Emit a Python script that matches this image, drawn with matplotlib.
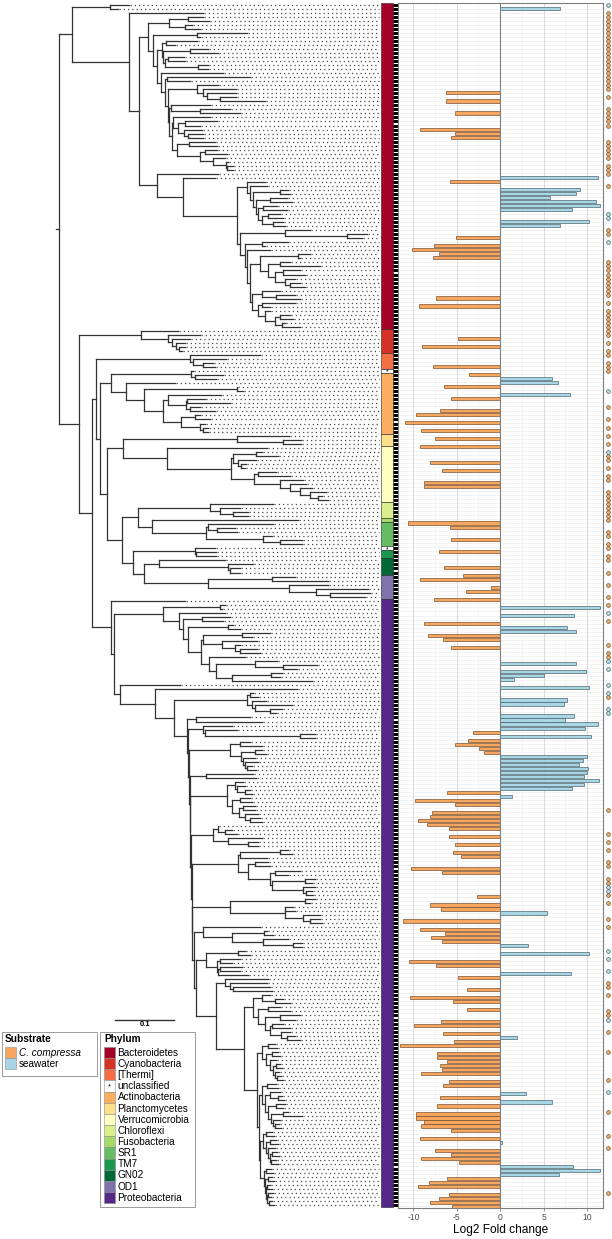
import matplotlib
matplotlib.use("Agg")
import matplotlib.pyplot as plt
import numpy as np
from matplotlib.patches import Rectangle
from matplotlib.collections import LineCollection

plt.rcParams['font.family'] = ['Liberation Sans', 'DejaVu Sans']

# ---------------- data ----------------
N_TIPS = 299

# phylum strip (top -> bottom), block names and number of tips
strip_phylum = ['Bacteroidetes', 'Cyanobacteria', '[Thermi]', 'unclassified', 'Actinobacteria',
                'Planctomycetes', 'Verrucomicrobia', 'Chloroflexi', 'Fusobacteria', 'SR1',
                'unclassified', 'TM7', 'GN02', 'OD1', 'Proteobacteria']
strip_count = [81, 6, 4, 1, 15, 3, 14, 4, 1, 6, 1, 2, 4, 6, 151]

legend_phyla = ['Bacteroidetes', 'Cyanobacteria', '[Thermi]', 'unclassified', 'Actinobacteria',
                'Planctomycetes', 'Verrucomicrobia', 'Chloroflexi', 'Fusobacteria', 'SR1',
                'TM7', 'GN02', 'OD1', 'Proteobacteria']
legend_colors = ['#A50026', '#D73027', '#F46D43', '#FFFFFF', '#FDAE61', '#FEE08B', '#FFFFBF',
                 '#D9EF8B', '#A6D96A', '#66BD63', '#1A9850', '#006837', '#8073AC', '#542788']

substrates = ['C. compressa', 'seawater']
substrate_colors = ['#F6A65E', '#A9D6E5']

# log2 fold change per tip row (rows without a value are absent)
bar_rows = [0, 21, 23, 26, 30, 31, 32, 42, 43, 45, 46, 47, 48, 49, 50, 53, 54, 57, 59, 60,
            61, 62, 72, 74, 82, 84, 89, 91, 92, 93, 94, 96, 97, 100, 101, 103, 105, 107, 109, 113,
            115, 118, 119, 128, 129, 132, 135, 139, 141, 142, 144, 145, 147, 149, 151, 153, 154, 155, 156, 157,
            159, 163, 165, 166, 167, 169, 172, 173, 176, 177, 178, 179, 180, 181, 182, 183, 184, 185, 186, 187,
            188, 189, 190, 191, 192, 193, 194, 195, 196, 197, 198, 200, 201, 202, 203, 204, 206, 208, 210, 211,
            214, 215, 221, 223, 224, 225, 227, 229, 230, 231, 232, 233, 235, 237, 238, 240, 241, 244, 246, 247,
            249, 252, 253, 255, 256, 257, 258, 260, 261, 262, 263, 264, 265, 267, 268, 270, 271, 272, 273, 275,
            276, 277, 278, 279, 281, 282, 284, 285, 286, 287, 288, 289, 290, 291, 292, 293, 295, 296, 297, 298]
bar_vals = [6.85, -6.19, -6.19, -5.23, -9.23, -5.15, -5.69, 11.27, -5.73, 9.15, 8.77, 5.77, 11.0, 11.46, 8.23, 10.27, 6.88, -5.12, -7.65, -10.12,
            -7.04, -7.77, -7.35, -9.35, -4.81, -9.04, -7.73, -3.54, 5.92, 6.65, -6.5, 8.08, -5.65, -6.88, -9.73, -11.0, -9.12, -7.46, -9.27, -8.12,
            -6.73, -8.73, -8.81, -10.58, -5.81, -5.62, -7.08, -6.5, -4.27, -9.27, -1.0, -3.96, -7.58, 11.54, 8.54, -8.81, 7.65, 8.69, -8.27, -6.54,
            -5.69, 8.77, 9.92, 5.0, 1.62, 10.23, 7.65, 7.31, 8.46, 7.5, 11.23, 9.73, -3.08, 10.42, -3.69, -5.23, -2.42, -1.92, 9.96, 9.5,
            9.12, 10.08, 9.96, 9.62, 11.35, 9.62, 8.31, -6.08, 1.31, -9.77, -5.15, -7.81, -8.12, -9.5, -8.46, -5.92, -5.92, -5.19, -5.46, -4.46,
            -10.23, -6.65, -2.65, -8.04, -6.77, 5.35, -11.15, -9.19, -6.31, -7.92, -6.65, 3.15, 10.19, -10.46, -7.42, 8.12, -4.81, -3.85, -10.35, -5.46,
            -3.77, -6.85, -9.88, -6.58, 1.92, -5.27, -11.5, -7.27, -7.27, -6.08, -6.88, -6.65, -9.12, -5.85, -6.58, 2.92, -6.96, 5.92, -7.23, -9.65,
            -9.65, -8.73, -9.12, -5.65, -9.27, 0.23, -7.5, -5.62, -9.08, -4.73, 8.35, 11.46, 6.77, -6.08, -8.23, -9.42, -5.85, -7.08, -8.12, -5.54]

# presence circles (right-hand column)
circle_orange_rows = (list(range(2, 22)) + [23, 26, 27, 28, 29, 30, 34, 35, 36, 37, 38, 40, 41, 42, 45, 56, 57]
                      + list(range(64, 73)) + [74] + list(range(76, 83)) +
                      [84, 86, 87, 89, 90, 91, 100, 103, 105, 107, 109, 112, 113, 115, 117, 118]
                      + list(range(121, 129)) +
                      [131, 132, 134, 135, 137, 138, 141, 144, 147, 149, 153, 159, 161, 162, 172, 200, 206,
                       208, 210, 213, 214, 217, 218, 221, 223, 227, 229, 243, 244, 246, 250, 251, 255, 260,
                       267, 275, 281, 284, 295])
circle_blue_rows = [0, 52, 53, 59, 96, 111, 151, 163, 165, 169, 171, 175, 176, 219, 220, 235, 237,
                    240, 252, 270]

# phylogeny: "(children)depth" for internal nodes, "depth" for tips (depth units: 59 = 0.1 subst.)
T_BACT_D = ("(((203,209)188,(192,200)185)169,((247,200)196.7,"
            "(((197,175)166,((208,218)190,((184,185)168,(208,208)198)165)163)161.7,"
            "(223,((250,190)166.7,((218,(236,(236,(236,265)220)207)203)197,"
            "((210,(230,240)200)170.7,((210,((217,200)185,(202,(203,203)188)184)178)173.3,"
            "((215,217)188.5,((217,227)205,(225,(228,(233,233)227)226)213)200)176.7)172)168.5)168)165)160.7)156.7)152.7)147.7")
T_BACT_F = ("(218,(215,((265,(267,((288,290)280,((287,292)270,((277,287)263,((280,283)268,(283,285)273)262)258)256)253)250)246.7,"
            "((310,(367,362)347)285,((288,265)262,(270,("
            "((310,300)298,((290,320)280,((300,305)283,(295,(300,305)290)285)275)268)260,"
            "((280,(295,300)276)262,((295,270)262,(270,((290,293)280,(285,300)282)275)265)258)252"
            ")250)247)245)240)236.7)183.3)157")
T_BACT = "((129,118)110,(203,(" + T_BACT_D + "," + T_BACT_F + ")139.3)129.3)71.7"
T_CYANO = "(178,(200,(190,(185,(185,182)179)176)172)167.7)141"
T_THERMI = "(260,(226,(213,215)203)193)190"
T_ACTINO = ("((193,(223,216)195)191,(175,((237,243)236.7,((221,((205,230)187,(200,215)190)186)167.7,"
            "((200,210)195,(205,(208,208)203)200)181)162.7)144)125.7)111")
T_PLANC_VERR = ("((289,(301,301)283)236.7,(267,(((262,278)256,(256,(246,245)241)238)233,"
                "((276,290)258,(303,(306,(312,(326,(322,328)318)310)300)290)280)254)230.7)167.3)122.7")
T_MINOR = ("(((273,(240,(248,248)233)220)210,(298,((273,(235,237)217)208,(272,(302,302)280)263)205.7)152)137.7,"
           "((215,(216,216)196)195,((225,(253,(240,240)230)228)159,"
           "((295,328)272,(328,(368,(370,365)330)316)289)208)144)132.7)121.7")
T_PROTEO_Q1 = ("((225,222)220,(225,((230,223)202,((233,240)228,(((270,252)242,(257,(240,(257,260)240)235)222)203,"
               "(245,((277,(317,297)283)255,((282,280)271,312)232)216)209)201)188)183)179.3)162.7")
T_W = ("(((270,(283,290)275)262,((280,290)268,((300,295)280,((283,290)272,(290,(295,300)287)281)270)265)258)253,"
       "(((275,277)268,((278,280)272,(276,((280,282)276,(279,(281,283)277)275)273)270)266)262,"
       "(((276,278)267,((280,(282,284)278)270,((285,283)276,((288,302)283,(280,(279,281)275)273)271)268)265)262,"
       "(((272,274)266,((276,278)270,(275,((277,279)272,(276,278)271)270)268)266)263,"
       "((271,273)266,((272,274)268,((270,272)267,((273,271)268,(272,274)269)267)266)265)264)260)259)257)244")
T_V_PARTS = [
    "(250,262)196",
    "(232,(237,(315,315)300)205)202.7",
    "((250,262)240,((262,266)255,(255,(258,(252,256)247)245)243)241)230",
    "(253,256)206",
    "((243,(245,(250,252)245)237)235,((250,252)240,((255,255)243,(258,(260,262)250)245)239)232)227",
    "((217,(232,237)225)218,(262,(258,258)248)228)213",
    "(((288,292)280,267)240,((268,270)255,((300,288)275,((315,312)305,(315,(312,313)306)303)272)270)248)238",
    "((315,310)305,((293,295)272,(320,(320,322)310)303)285)230",
    "(260,((267,273)264,(288,(302,302)293)263)232)203",
    "((245,250)238,((240,232)220,((242,240)220,248)218)217)205.7",
    "(268,(267,(270,272)233)230)225",
]
T_V_CHAIN = [188, 189, 189.5, 190, 191, 191.5, 192, 194, 196, 215.7]


def build_v():
    s = T_W
    for part, d in zip(T_V_PARTS[::-1][:-1], T_V_CHAIN[::-1]):
        s = "(" + part + "," + s + ")" + str(d)
    return "(" + T_V_PARTS[0] + "," + s + ")186.7"


T_PROTEO = ("(185,(" + T_PROTEO_Q1 + ",(180,(297,(((253,258)250,(266,(292,(282,276)270)255)252)246.7,"
            + build_v() + ")174)155)120)114)110.7")
TREE = ("(" + T_BACT + ",(" + T_CYANO + ",((" + T_THERMI + ",(" + T_ACTINO + ",(" + T_PLANC_VERR + ","
        + T_MINOR + ")106.7)100)96," + T_PROTEO + ")91.7)79.3)59")


# ---------------- tree parsing / layout ----------------
def parse(s):
    s = s.replace(" ", "")
    pos = [0]

    def number():
        st = pos[0]
        while pos[0] < len(s) and (s[pos[0]].isdigit() or s[pos[0]] == '.'):
            pos[0] += 1
        return float(s[st:pos[0]])

    def node():
        if s[pos[0]] == '(':
            pos[0] += 1
            kids = [node()]
            while s[pos[0]] == ',':
                pos[0] += 1
                kids.append(node())
            pos[0] += 1
            return {'d': number(), 'kids': kids}
        return {'d': number(), 'kids': []}
    return node()


root = parse(TREE)
segs, tips = [], []
counter = [0]


def layout(nd, parent_d):
    nd['d'] = max(nd['d'], parent_d)
    if not nd['kids']:
        nd['y'] = counter[0]
        counter[0] += 1
        tips.append((nd['d'], nd['y']))
        return nd['y']
    ys = [layout(k, nd['d']) for k in nd['kids']]
    nd['y'] = (ys[0] + ys[-1]) / 2.0
    segs.append([(nd['d'], ys[0]), (nd['d'], ys[-1])])
    for k in nd['kids']:
        segs.append([(nd['d'], k['y']), (k['d'], k['y'])])
    return nd['y']


layout(root, 0)
segs.append([(root['d'] - 3, root['y']), (root['d'], root['y'])])

# ---------------- figure ----------------
W, H = 612, 1239
fig = plt.figure(figsize=(W / 100, H / 100), dpi=100)


def px_rect(x0, y0, x1, y1):
    return [x0 / W, 1 - y1 / H, (x1 - x0) / W, (y1 - y0) / H]


# left panel: tree + strip
axl = fig.add_axes(px_rect(0, 0, 398, H))
axl.set_xlim(0, 398)
axl.set_ylim((H - 4.7) / 4.027, -4.7 / 4.027)
axl.axis('off')
axl.add_collection(LineCollection(segs, colors='#333333', linewidths=0.9, capstyle='projecting'))
lead = [[(d + 1, y), (379, y)] for d, y in tips]
axl.add_collection(LineCollection(lead, colors='#4a4a4a', linewidths=0.9, linestyles=[(0, (1.0, 2.4))]))

col_of = dict(zip(legend_phyla, legend_colors))
start = 0
for ph, cnt in zip(strip_phylum, strip_count):
    axl.add_patch(Rectangle((381, start - 0.5), 12, cnt, facecolor=col_of[ph],
                            edgecolor='#222222', linewidth=0.4))
    if ph == 'unclassified':
        axl.text(387, start + (cnt - 1) / 2 + 0.3, '*', ha='center', va='center', fontsize=5)
    start += cnt
axl.hlines(np.arange(N_TIPS), 393.3, 397.8, colors='black', linewidth=2.1)

# bar panel
ax = fig.add_axes(px_rect(398, 3, 603.3, 1208.3))
ax.set_xlim(-11.77, 11.88)
ax.set_ylim(298.46, -1.37)
ax.set_facecolor('white')
ax.hlines(np.arange(N_TIPS), -12, 12, colors='#EBEBEB', linewidth=0.45, zorder=0)
for v in [-7.5, -2.5, 2.5, 7.5]:
    ax.axvline(v, color='#F2F2F2', linewidth=0.5, zorder=0)
for v in [-10, -5, 5, 10]:
    ax.axvline(v, color='#DCDCDC', linewidth=0.8, zorder=0)
rows = np.array(bar_rows)
vals = np.array(bar_vals)
neg = vals < 0
ax.barh(rows[neg], vals[neg], height=0.78, color=substrate_colors[0], edgecolor='#6E4424',
        linewidth=0.45, zorder=2)
ax.barh(rows[~neg], vals[~neg], height=0.78, color=substrate_colors[1], edgecolor='#3F5864',
        linewidth=0.45, zorder=2)
ax.axvline(0, color='#7F7F7F', linewidth=0.8, zorder=3)
for sp in ax.spines.values():
    sp.set_color('#7F7F7F')
    sp.set_linewidth(0.8)
ax.set_yticks([])
ax.set_xticks([-10, -5, 0, 5, 10])
ax.set_xticklabels(['-10', '-5', '0', '5', '10'])
ax.tick_params(axis='x', length=2, width=0.6, color='#7F7F7F', pad=1.5, labelsize=6.2,
               labelcolor='#4D4D4D')

# circle column
axc = fig.add_axes(px_rect(603.3, 0, 612, H))
axc.set_xlim(0, 1)
axc.set_ylim((H - 4.7) / 4.027, -4.7 / 4.027)
axc.axis('off')
axc.plot([0.5] * len(circle_orange_rows), circle_orange_rows, 'o', ms=2.7,
         mfc='#F2A865', mec='#6B4A2A', mew=0.45, clip_on=False)
axc.plot([0.5] * len(circle_blue_rows), circle_blue_rows, 'o', ms=2.7,
         mfc='#B3DCEA', mec='#3F5A66', mew=0.45, clip_on=False)

# overlay for text, legends, scale bar
ov = fig.add_axes([0, 0, 1, 1])
ov.set_xlim(0, W)
ov.set_ylim(H, 0)
ov.axis('off')
ov.text(500.5, 1230, 'Log2 Fold change', ha='center', va='center', fontsize=8.6)

# scale bar
ov.plot([115, 174], [1020, 1020], color='#333333', linewidth=1.0)
ov.text(145, 1025, '0.1', ha='center', va='center', fontsize=5.5, fontweight='bold')

# substrate legend
ov.add_patch(Rectangle((1.7, 1031.7), 95, 44, facecolor='white', edgecolor='#8C8C8C', linewidth=0.6))
ov.text(5, 1039.5, 'Substrate', ha='left', va='center', fontsize=7.3, fontweight='bold')
for k, (lab, c) in enumerate(zip(substrates, substrate_colors)):
    y0 = 1047 + k * 11.2
    ov.add_patch(Rectangle((5, y0), 10.5, 11.2, facecolor=c, edgecolor='#8C8C8C', linewidth=0.4))
    ov.text(19, y0 + 5.8, lab, ha='left', va='center', fontsize=7.2,
            fontstyle='italic' if k == 0 else 'normal')

# phylum legend
ov.add_patch(Rectangle((100.3, 1031.7), 94.5, 175, facecolor='white', edgecolor='#8C8C8C', linewidth=0.6))
ov.text(104, 1039.5, 'Phylum', ha='left', va='center', fontsize=7.3, fontweight='bold')
for k, (lab, c) in enumerate(zip(legend_phyla, legend_colors)):
    y0 = 1047 + k * 11.15
    ov.add_patch(Rectangle((103.5, y0), 11.5, 11.15, facecolor=c, edgecolor='#8C8C8C', linewidth=0.4))
    if lab == 'unclassified':
        ov.text(109.2, y0 + 6.3, '*', ha='center', va='center', fontsize=5.5)
    ov.text(117.5, y0 + 5.8, lab, ha='left', va='center', fontsize=7.2)

fig.savefig('out.png', dpi=100)
print('tips', counter[0])
